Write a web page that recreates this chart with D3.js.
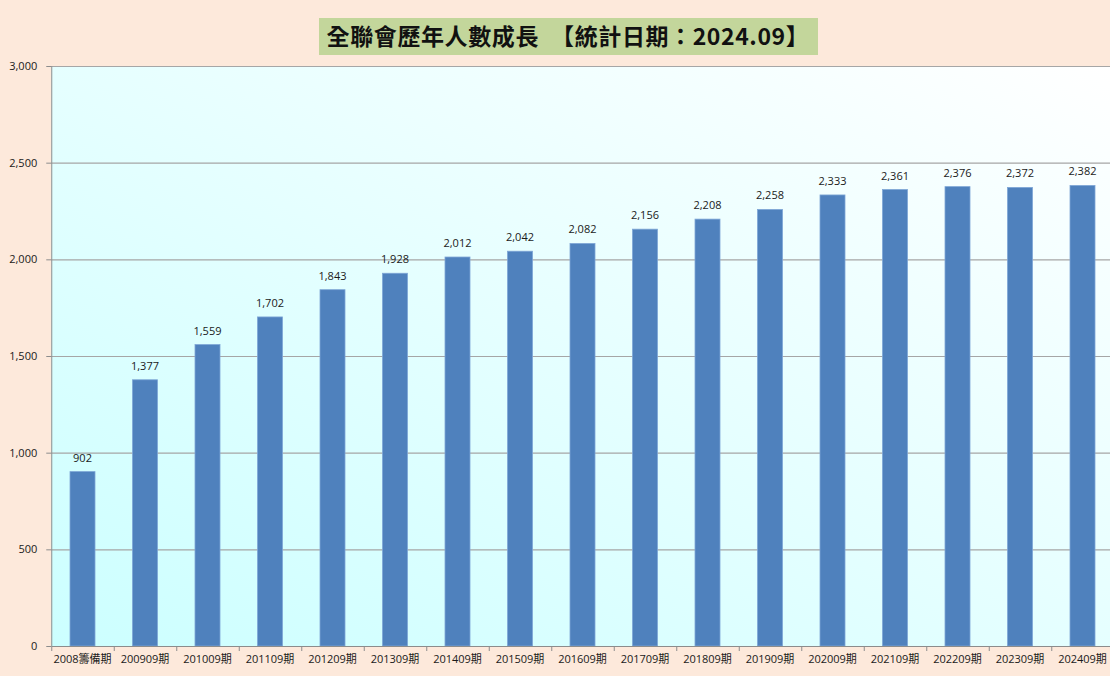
<!DOCTYPE html>
<html>
<head>
<meta charset="utf-8">
<script src="https://cdn.jsdelivr.net/npm/d3@7"></script>
<style>
  body { margin: 0; background: #fde9db; }
  svg { display: block; }
</style>
</head>
<body>
<svg id="chart" width="1110" height="676"></svg>
<script>
const categories = ['2008籌備期', '200909期', '201009期', '201109期', '201209期', '201309期', '201409期', '201509期', '201609期', '201709期', '201809期', '201909期', '202009期', '202109期', '202209期', '202309期', '202409期']
const members = [902, 1377, 1559, 1702, 1843, 1928, 2012, 2042, 2082, 2156, 2208, 2258, 2333, 2361, 2376, 2372, 2382]
const yTicks = [0, 500, 1000, 1500, 2000, 2500, 3000]
const title = '全聯會歷年人數成長　【統計日期：2024.09】'

var svg = d3.select('#chart'),
  marginLeft = 51.25,
  marginTop = 66,
  width = 62.5 * categories.length,
  height = 580

svg.append('rect')
  .attr('width', 1110)
  .attr('height', 676)
  .style('fill', '#fde9db')

// plot background gradient
var defs = svg.append('defs')
var grad = defs.append('linearGradient')
  .attr('id', 'bg')
  .attr('x1', '0%').attr('y1', '100%')
  .attr('x2', '100%').attr('y2', '0%')
grad.append('stop').attr('offset', '0%').attr('stop-color', '#ccffff')
grad.append('stop').attr('offset', '100%').attr('stop-color', '#ffffff')

const x = d3.scaleBand()
  .domain(categories)
  .range([0, width])
  .paddingInner(0.6)
  .paddingOuter(0.3)

const y = d3.scaleLinear().domain([0, 3000]).range([height, 0])

var g = svg.append('g')
  .attr('transform', 'translate(' + marginLeft + ',' + marginTop + ')')

g.append('rect')
  .attr('width', width)
  .attr('height', height)
  .style('fill', 'url(#bg)')

// gridlines
g.append('g')
  .selectAll()
  .data(yTicks.filter(d => d > 0))
  .enter()
  .append('line')
  .attr('x1', 0)
  .attr('x2', width)
  .attr('y1', d => y(d) + 0.5)
  .attr('y2', d => y(d) + 0.5)
  .style('stroke', '#a6a6a6')
  .style('stroke-width', 1.2)

// bars
g.append('g')
  .selectAll()
  .data(members)
  .enter()
  .append('rect')
  .attr('x', (d, i) => x(categories[i]))
  .attr('y', d => y(d))
  .attr('width', x.bandwidth())
  .attr('height', d => height - y(d))
  .style('fill', '#4f81bd')
  .style('stroke', '#7ea6d6')
  .style('stroke-width', 0.8)

// value labels
g.append('g')
  .selectAll()
  .data(members)
  .enter()
  .append('text')
  .attr('x', (d, i) => x(categories[i]) + x.bandwidth() / 2)
  .attr('y', d => y(d) - 10)
  .attr('text-anchor', 'middle')
  .style('font-family', 'Open Sans, DejaVu Sans, sans-serif')
  .style('font-size', '11px')
  .style('fill', '#1a1a1a')
  .text(d => d3.format(',')(d))

// y axis
const yAxis = d3.axisLeft(y)
  .tickValues(yTicks)
  .tickFormat(d3.format(','))
  .tickSize(5)
  .tickPadding(9)

var ya = g.append('g')
  .call(yAxis)
ya.select('.domain').style('stroke', '#8c8c8c').attr('d', 'M0.5,0V' + height)
ya.selectAll('.tick line').style('stroke', '#8c8c8c')
ya.selectAll('.tick text')
  .style('font-family', 'Open Sans, DejaVu Sans, sans-serif')
  .style('font-size', '11px')
  .style('fill', '#1a1a1a')

// x axis
const xAxis = d3.axisBottom(x)
  .tickSize(0)
  .tickPadding(9)

var xa = g.append('g')
  .attr('transform', 'translate(0,' + height + ')')
  .call(xAxis)
xa.select('.domain').style('stroke', '#8c8c8c')
xa.selectAll('.tick text')
  .style('font-family', 'Open Sans, Noto Sans CJK TC, sans-serif')
  .style('font-size', '11px')
  .style('fill', '#1a1a1a')

// category separators
xa.selectAll()
  .data(categories)
  .enter()
  .append('line')
  .attr('x1', (d, i) => x.step() * i + 0.5)
  .attr('x2', (d, i) => x.step() * i + 0.5)
  .attr('y1', 0)
  .attr('y2', 5)
  .style('stroke', '#8c8c8c')

// title
var titleG = svg.append('g')
titleG.append('rect')
  .attr('x', 319)
  .attr('y', 18)
  .attr('width', 499)
  .attr('height', 37)
  .style('fill', '#c3d69b')

titleG.append('text')
  .attr('x', 568)
  .attr('y', 45)
  .attr('text-anchor', 'middle')
  .style('font-family', 'Noto Sans CJK TC, sans-serif')
  .style('font-weight', 'bold')
  .style('font-size', '23px')
  .style('letter-spacing', '0.6px')
  .style('fill', '#111')
  .text(title)
</script>
</body>
</html>
